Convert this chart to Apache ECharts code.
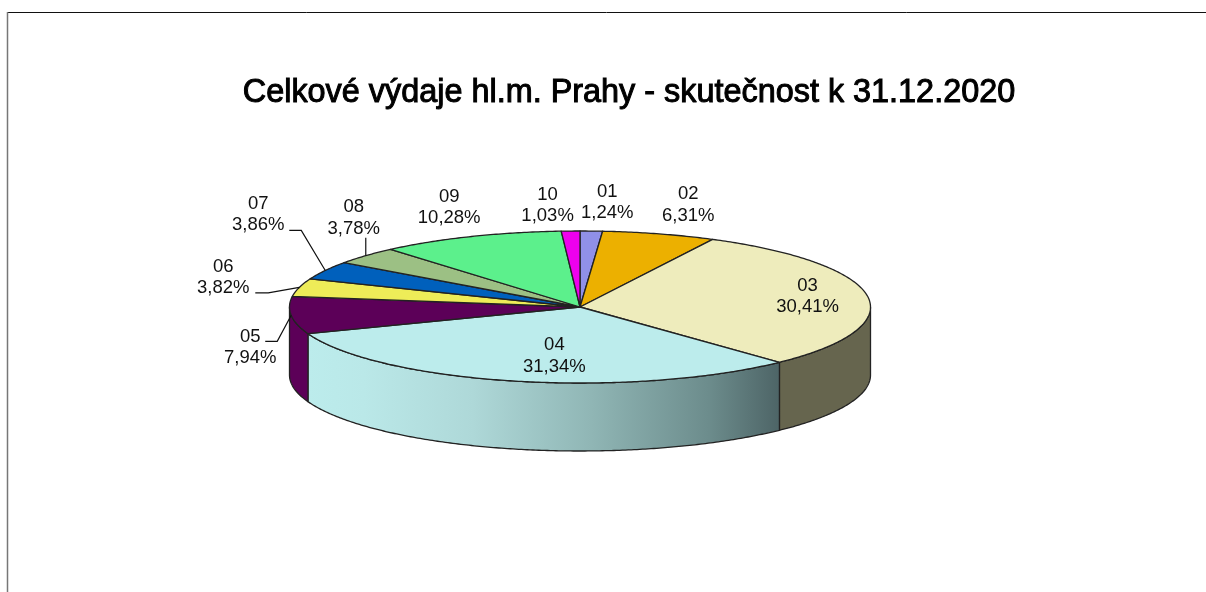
<!DOCTYPE html>
<html>
<head>
<meta charset="utf-8">
<title>Celkové výdaje hl.m. Prahy</title>
<script src="https://cdn.jsdelivr.net/npm/echarts@6/dist/echarts.min.js"></script>
<style>
  html, body { margin: 0; padding: 0; background: #fff; }
  #chart { width: 1206px; height: 592px; }
</style>
</head>
<body>
<div id="chart"></div>
<script>
const titleText = 'Celkové výdaje hl.m. Prahy - skutečnost k 31.12.2020'
const categories = ['01', '02', '03', '04', '05', '06', '07', '08', '09', '10']
const shares = [1.24, 6.31, 30.41, 31.34, 7.94, 3.82, 3.86, 3.78, 10.28, 1.03]

const topColors = ['#9090e8', '#ecb000', '#eeecbc', '#bcecec', '#5c0058', '#eeec58', '#0060bc', '#9cc084', '#5cf08c', '#ee00ee']
const wallColors = {
  2: '#66654e',
  3: {
    type: 'linear', x: 0, y: 0, x2: 1, y2: 0,
    colorStops: [
      { offset: 0, color: '#bcecec' },
      { offset: 0.12, color: '#bae8e8' },
      { offset: 0.35, color: '#aed8d8' },
      { offset: 0.6, color: '#90b6b5' },
      { offset: 0.85, color: '#6c8c8c' },
      { offset: 1, color: '#4d6466' }
    ]
  },
  4: '#5c0058'
}

// label centre, relative to the point where the slice's middle meets the rim
const labelOffsets = [[16, -28.5], [29, -29], [-60, 0], [40, -25], [-41, 32], [-76, -10], [-67, -56], [-12, -38], [-21, -29], [-23, -25.5]]
// leader line bends, also relative to that rim point
const leaders = {
  4: [[-14, 26], [-26, 26]],
  5: [[-31, 5.5], [-44, 5.5]],
  6: [[-24, -40], [-36, -40]],
  7: [[0, -18]]
}

const pieBox = { cx: 580, cy: 307, rx: 290.5, ry: 76, depth: 68 }
const total = shares.reduce((a, b) => a + b, 0)

// angle runs clockwise from the top of the pie
const rimPoint = (angle, drop) => [
  pieBox.cx + pieBox.rx * Math.sin(angle),
  pieBox.cy - pieBox.ry * Math.cos(angle) + (drop || 0)
]

const arcPoints = (from, to, drop) => {
  let pts = []
  let steps = Math.max(2, Math.ceil((to - from) / 0.01))
  for (let i = 0; i <= steps; i++) {
    pts.push(rimPoint(from + (to - from) * i / steps, drop))
  }
  return pts
}

const sliceAngles = (idx) => {
  let before = shares.slice(0, idx).reduce((a, b) => a + b, 0)
  let from = before / total * Math.PI * 2
  return [from, from + shares[idx] / total * Math.PI * 2]
}

const lineStyle = { stroke: '#222', lineWidth: 1.3, lineJoin: 'round' }

const renderSlice = (params, api) => {
  let idx = params.dataIndex
  let [from, to] = sliceAngles(idx)
  let children = []

  // side wall, only the front half of the rim shows
  let wallFrom = Math.max(from, Math.PI / 2)
  let wallTo = Math.min(to, Math.PI * 1.5)
  if (wallTo > wallFrom) {
    let top = arcPoints(wallFrom, wallTo, 0)
    let bottom = arcPoints(wallFrom, wallTo, pieBox.depth).reverse()
    children.push({
      type: 'polygon',
      z2: 1,
      shape: { points: top.concat(bottom) },
      style: Object.assign({ fill: wallColors[idx] }, lineStyle)
    })
  }

  // top face
  children.push({
    type: 'polygon',
    z2: 2,
    shape: { points: [[pieBox.cx, pieBox.cy]].concat(arcPoints(from, to, 0)) },
    style: Object.assign({ fill: topColors[idx] }, lineStyle)
  })

  let anchor = rimPoint((from + to) / 2, 0)
  if (leaders[idx]) {
    let pts = [anchor].concat(leaders[idx].map(o => [anchor[0] + o[0], anchor[1] + o[1]]))
    children.push({
      type: 'polyline',
      z2: 3,
      shape: { points: pts },
      style: { stroke: '#111', lineWidth: 1.2, fill: null }
    })
  }

  children.push({
    type: 'text',
    z2: 4,
    x: anchor[0] + labelOffsets[idx][0],
    y: anchor[1] + labelOffsets[idx][1],
    style: {
      text: categories[idx] + '\n' + api.value(0).toFixed(2).replace('.', ',') + '%',
      fill: '#111',
      font: '18.5px "Liberation Sans", Arial, sans-serif',
      lineHeight: 21.5,
      align: 'center',
      verticalAlign: 'middle'
    }
  })

  return { type: 'group', children }
}

const chart = echarts.init(document.getElementById('chart'))

chart.setOption({
  animation: false,
  backgroundColor: '#fff',
  title: {
    text: titleText,
    left: 624,
    top: 72,
    textAlign: 'center',
    textStyle: {
      color: '#000',
      fontFamily: '"Liberation Sans", Arial, sans-serif',
      fontSize: 32.4,
      fontWeight: 'normal',
      textBorderColor: '#000',
      textBorderWidth: 1
    }
  },
  graphic: [
    {
      type: 'line',
      shape: { x1: 7, y1: 12.5, x2: 1206, y2: 12.5 },
      style: { stroke: '#111', lineWidth: 1 }
    },
    {
      type: 'line',
      shape: { x1: 7.5, y1: 12, x2: 7.5, y2: 592 },
      style: { stroke: '#777', lineWidth: 1.5 }
    }
  ],
  series: [
    {
      type: 'custom',
      coordinateSystem: 'none',
      renderItem: renderSlice,
      silent: true,
      data: shares
    }
  ]
})
</script>
</body>
</html>
